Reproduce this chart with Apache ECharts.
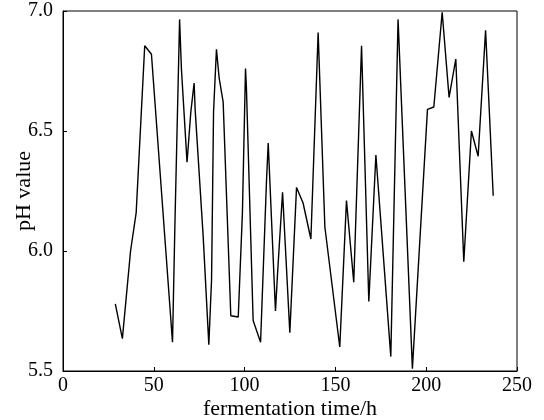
<!DOCTYPE html>
<html>
<head>
<meta charset="utf-8">
<script src="https://cdn.jsdelivr.net/npm/echarts@6/dist/echarts.min.js"></script>
<style>html,body{margin:0;padding:0;background:#fff;}#c{width:544px;height:420px;}</style>
</head>
<body>
<div id="c"></div>
<script>
var timeH = [28.8,32.7,37.2,40.3,45.0,48.7,60.3,61.6,64.2,65.2,68.3,70.4,72.2,72.8,77.2,80.3,81.8,82.9,84.5,86.0,88.2,92.4,96.5,98.8,100.5,101.0,104.7,108.8,112.1,113.0,117.0,118.1,120.9,124.9,128.6,132.2,136.5,140.5,144.2,152.4,156.1,160.1,164.4,168.4,172.3,180.5,184.5,192.4,200.7,204.2,208.8,212.6,216.3,220.7,224.9,228.6,232.7,236.9];
var phValue = [5.78,5.635,6.00,6.16,6.855,6.82,5.62,6.10,6.965,6.76,6.37,6.58,6.70,6.585,6.06,5.61,5.88,6.58,6.84,6.72,6.62,5.73,5.725,6.16,6.76,6.68,5.71,5.62,6.30,6.45,5.75,5.90,6.245,5.66,6.265,6.20,6.05,6.91,6.10,5.60,6.21,5.87,6.855,5.79,6.40,5.56,6.965,5.51,6.59,6.60,6.995,6.64,6.80,5.955,6.50,6.395,6.92,6.23];
var xTicks = [0,50,100,150,200,250];
var yTicks = [5.5,6.0,6.5,7.0];

var pts = timeH.map(function(t,i){return [t, phValue[i]];});
var font = 'Liberation Serif';
var chart = echarts.init(document.getElementById('c'), null, {renderer:'canvas'});
chart.setOption({
  animation:false,
  grid:{left:63,right:27,top:11,bottom:49,containLabel:false,outerBoundsMode:'none',show:true,borderColor:'#000',borderWidth:1,backgroundColor:'transparent'},
  xAxis:{type:'value',min:xTicks[0],max:xTicks[xTicks.length-1],interval:50,
    name:'fermentation time/h',nameLocation:'middle',nameGap:27,nameMoveOverlap:false,
    nameTextStyle:{fontFamily:font,fontSize:22,color:'#000'},
    axisLine:{lineStyle:{color:'#000',width:1}},
    axisTick:{inside:true,length:4,lineStyle:{color:'#000'}},
    axisLabel:{fontFamily:font,fontSize:20,color:'#000',margin:5},
    splitLine:{show:false}},
  yAxis:{type:'value',min:yTicks[0],max:yTicks[yTicks.length-1],interval:0.5,
    name:'pH value',nameLocation:'middle',nameGap:28,nameMoveOverlap:false,
    nameTextStyle:{fontFamily:font,fontSize:22,color:'#000'},
    axisLine:{show:true,lineStyle:{color:'#000',width:1}},
    axisTick:{show:true,inside:true,length:4,lineStyle:{color:'#000'}},
    axisLabel:{fontFamily:font,fontSize:20,color:'#000',margin:10,formatter:function(v){return v.toFixed(1);}},
    splitLine:{show:false}},
  series:[{type:'line',data:pts,showSymbol:false,symbol:'none',
    lineStyle:{color:'#000',width:1.4}}]
});
</script>
</body>
</html>
